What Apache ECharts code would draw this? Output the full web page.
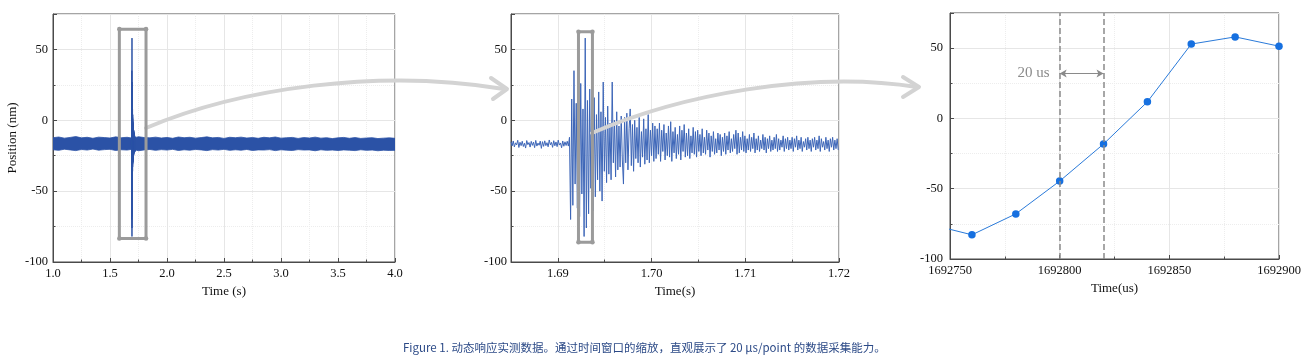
<!DOCTYPE html>
<html><head><meta charset="utf-8">
<script src="https://cdn.jsdelivr.net/npm/echarts@6/dist/echarts.min.js"></script>
<style>html,body{margin:0;padding:0;background:#fff}#c{width:1301px;height:361px}</style>
</head><body><div id="c"></div><script>
// ---------------- data ----------------
const overviewStart = 1.0, overviewStep = 0.05;   // envelope of the noise band (s)
const bandUpper = [
-12.3,-11.8,-12.6,-12.1,-11.5,-12.4,-12.0,-12.7,-11.9,-12.2,
-12.5,-11.7,-12.3,-12.0,-12.6,-11.6,-12.2,-12.4,-11.9,-12.5,
-12.1,-12.7,-11.8,-12.3,-12.0,-12.6,-12.2,-11.7,-12.4,-12.1,
-12.8,-12.0,-12.3,-11.9,-12.5,-12.2,-12.7,-12.0,-12.4,-11.8,
-12.6,-12.3,-12.1,-12.8,-12.2,-12.5,-11.9,-12.6,-12.3,-12.9,
-12.4,-12.1,-12.7,-12.2,-12.8,-12.5,-12.3,-12.9,-12.6,-12.4,
-12.7];
const bandLower = [
-20.8,-21.2,-20.4,-20.9,-21.4,-20.6,-21.0,-20.3,-21.1,-20.7,
-20.5,-21.3,-20.8,-21.0,-20.4,-21.5,-20.9,-20.6,-21.2,-20.7,
-21.0,-20.5,-21.3,-20.8,-21.1,-20.6,-20.9,-21.4,-20.7,-21.0,
-20.5,-21.2,-20.8,-21.1,-20.6,-21.3,-20.9,-21.0,-20.7,-21.4,
-20.8,-21.1,-21.3,-20.7,-21.0,-20.9,-21.5,-20.8,-21.2,-21.0,
-21.3,-20.9,-21.1,-21.4,-20.8,-21.2,-21.0,-21.5,-21.1,-21.3,
-21.2];
const burstStart = 1.685, burstStep = 0.00012;     // zoomed window (s)
const burstValues = [
-15.2,-18.1,-14.6,-18.8,-15.9,-17.4,-14.1,-19.2,-15.5,-17.9,
-14.8,-18.5,-16.2,-19.6,-14.3,-17.2,-15.7,-18.9,-14.9,-17.7,
-15.4,-19.3,-14.2,-18.2,-16.1,-17.6,-14.7,-19.8,-15.1,-18.4,
-14.5,-17.9,-15.8,-18.7,-13.9,-17.3,-15.6,-19.1,-14.4,-18.0,
-15.3,-18.6,-14.0,-17.5,-16.0,-19.4,-14.6,-18.3,-15.2,-17.8,
-14.8,-18.2,
-12,-70,15,-60,35,-45,12,-62,20,-68,
26,-52,8,-82,58,-76,14,-66,22,-48,
25,-64,16,-54,4,-42,20,-50,6,-57,
27,-36,2,-44,10,-38,-2,-42,27,-30,
0,-40,6,-35,-4,-33,3,-28,-45,2,
-30,5,-35,-6,8,-32,-3,-36,0,-27,
-5,-30,2,-33,-8,-26,1,-31,-6,-28,
4,-30,-7,-25,-2,-29,
-4,-27,-6,-24,-2,-29,-7,-22,-3,-28,-9,-25,-4,-26,-1,-29,-8,-23,-5,-27,
-10,-24,-4,-28,-7,-22,-3,-26,-9,-25,-6,-27,-11,-23,-5,-24,-8,-26,-7,-22,
-10,-25,-6,-23,-12,-24,-7,-21,-9,-26,-11,-22,-8,-24,-13,-23,-9,-21,-10,-25,
-12,-22,-9,-24,-11,-21,-8,-23,-13,-22,-10,-20,-7,-24,-9,-23,-12,-21,-8,-22,
-11,-23,-13,-21,-10,-22,-12,-20,-9,-23,-13,-21,-11,-22,-14,-20,-10,-21,-12,-23,
-13,-20,-11,-22,-14,-21,-12,-20,-10,-22,-13,-21,-14,-19,-11,-22,-13,-20,-12,-21,
-14,-20,-12,-22,-13,-19,-11,-21,-14,-20,-12,-22,-15,-19,-13,-21,-12,-20,-14,-22,
-13,-19,-12,-21,-14,-20,-11,-22,-13,-19,-15,-21,-12,-20,-14,-22,-13,-19,-12,-21,-14,-20,-13,-21];
const zoomTimes  = [1692740,1692760,1692780,1692800,1692820,1692840,1692860,1692880,1692900]; // us
const zoomValues = [-75,-82.8,-67.9,-44.6,-18.2,11.8,52.9,58.0,51.4];
const guideTimes = [1692800,1692820];
const spanLevel = 32, spanLabel = '20 us';
const overviewBox = {x:[1.582,1.816], y:[-83.4,64.3]};
const windowBox   = {x:[1.6922,1.69369], y:[-86,62.4]};
const yTitle = 'Position (nm)';
const xTitles = ['Time (s)','Time(s)','Time(us)'];
const caption = 'Figure 1. 动态响应实测数据。通过时间窗口的缩放，直观展示了 20 μs/point 的数据采集能力。';

// ---------------- build ----------------
const FONT = 'Liberation Serif';
const AX = '#4a4a4a';
const BAND = '#2b52a6', MID = '#3d66b8', RLINE = '#2a7ad9', RMARK = '#1670e0';

const bandPts  = bandUpper.map((u,i)=>[overviewStart+i*overviewStep, bandLower[i], u]);
const burstPts = burstValues.map((v,i)=>[burstStart+i*burstStep, v]);
const zoomPts  = zoomTimes.map((t,i)=>[t, zoomValues[i]]);

function yAxisCfg(gi, margin, extra){
  return Object.assign({
    type:'value', gridIndex:gi, min:-100, max:75, interval:50,
    axisLine:{show:true, onZero:false, lineStyle:{color:AX}},
    axisTick:{show:true, inside:true, length:4, lineStyle:{color:AX}},
    minorTick:{show:true, splitNumber:2, length:2.5, lineStyle:{color:AX}},
    axisLabel:{showMaxLabel:false, color:'#111', fontFamily:FONT, fontSize:12.5, margin:margin},
    splitLine:{show:true, lineStyle:{color:'#e6e6e6', width:1}},
    minorSplitLine:{show:true, lineStyle:{color:'#ededed', type:'dotted'}}
  }, extra||{});
}
function xAxisCfg(gi, extra, labelExtra, gap){
  return Object.assign({
    type:'value', gridIndex:gi,
    axisLine:{show:true, onZero:false, lineStyle:{color:AX}},
    axisTick:{show:true, inside:true, length:4, lineStyle:{color:AX}},
    minorTick:{show:true, splitNumber:2, length:2.5, lineStyle:{color:AX}},
    axisLabel:Object.assign({color:'#111', fontFamily:FONT, fontSize:12.5, margin:5}, labelExtra||{}),
    splitLine:{show:true, lineStyle:{color:'#e6e6e6', width:1}},
    minorSplitLine:{show:true, lineStyle:{color:'#ededed', type:'dotted'}},
    nameLocation:'middle', nameGap:gap,
    nameTextStyle:{color:'#111', fontFamily:FONT, fontSize:13}
  }, extra);
}

const gridBase = {show:true, borderColor:AX, borderWidth:1, backgroundColor:'transparent', containLabel:false, outerBoundsMode:'none'};

const option = {
  animation:false,
  backgroundColor:'#fff',
  title:{text:caption, left:398, top:337,
    textStyle:{fontSize:11.5, fontWeight:'normal', color:'#2c4a87', fontFamily:'Noto Sans CJK SC'}},
  grid:[
    Object.assign({left:53, width:342, top:14, height:248}, gridBase),
    Object.assign({left:511, width:328, top:14, height:248}, gridBase),
    Object.assign({left:950, width:329, top:13, height:246}, gridBase)
  ],
  xAxis:[
    xAxisCfg(0, {min:1.0, max:4.0, interval:0.5, name:xTitles[0]}, {formatter:v=>v.toFixed(1)}, 20),
    xAxisCfg(1, {min:1.685, max:1.72, splitNumber:4, name:xTitles[1]}, {formatter:v=>v.toFixed(2), showMinLabel:false}, 19),
    xAxisCfg(2, {min:1692750, max:1692900, interval:50, name:xTitles[2]}, {formatter:v=>String(Math.round(v))}, 22)
  ],
  yAxis:[
    yAxisCfg(0, 5, {name:yTitle, nameLocation:'middle', nameGap:34,
      nameTextStyle:{color:'#111', fontFamily:FONT, fontSize:13}}),
    yAxisCfg(1, 4),
    yAxisCfg(2, 7)
  ],
  series:[
    {type:'custom', xAxisIndex:0, yAxisIndex:0, data:bandPts, silent:true, clip:true,
      encode:{x:0, y:[1,2]},
      renderItem:function(params, api){
        if (params.dataIndex !== 0) return null;
        const pts = [];
        for (let i=0;i<bandPts.length;i++) pts.push(api.coord([bandPts[i][0], bandPts[i][2]]));
        for (let i=bandPts.length-1;i>=0;i--) pts.push(api.coord([bandPts[i][0], bandPts[i][1]]));
        return {type:'polygon', shape:{points:pts}, style:{fill:BAND, stroke:BAND, lineWidth:0.8}};
      }},
    {type:'line', xAxisIndex:0, yAxisIndex:0, data:burstPts, symbol:'none', silent:true,
      lineStyle:{color:BAND, width:1}},
    {type:'line', xAxisIndex:1, yAxisIndex:1, data:burstPts, symbol:'none', silent:true,
      lineStyle:{color:MID, width:1}},
    {type:'line', xAxisIndex:2, yAxisIndex:2, data:zoomPts, symbol:'circle', symbolSize:7.5,
      showAllSymbol:true, silent:true,
      lineStyle:{color:RLINE, width:1}, itemStyle:{color:RMARK},
      markLine:{silent:true, symbol:['none','none'], animation:false,
        label:{show:false},
        lineStyle:{color:'#8a8a8a', type:'dashed', width:1.5},
        data:[
          {xAxis:guideTimes[0]},
          {xAxis:guideTimes[1]},
          [{coord:[guideTimes[0], spanLevel], symbol:'arrow', symbolSize:[6,7],
             lineStyle:{color:'#8a8a8a', type:'solid', width:1.2},
             label:{show:true, position:'start', formatter:spanLabel, color:'#8a8a8a',
                    fontFamily:FONT, fontSize:15, distance:10}},
           {coord:[guideTimes[1], spanLevel], symbol:'arrow', symbolSize:[6,7]}]
        ]}}
  ]
};

const chart = echarts.init(document.getElementById('c'), null, {renderer:'canvas'});
chart.setOption(option);

function boxGraphics(idx, b){
  const p1 = chart.convertToPixel({xAxisIndex:idx, yAxisIndex:idx}, [b.x[0], b.y[1]]);
  const p2 = chart.convertToPixel({xAxisIndex:idx, yAxisIndex:idx}, [b.x[1], b.y[0]]);
  const c = '#9b9b9b';
  const els = [{type:'rect', z:100, silent:true,
    shape:{x:p1[0], y:p1[1], width:p2[0]-p1[0], height:p2[1]-p1[1], r:2},
    style:{fill:null, stroke:c, lineWidth:3}}];
  [[p1[0],p1[1]],[p2[0],p1[1]],[p1[0],p2[1]],[p2[0],p2[1]]].forEach(p=>{
    els.push({type:'circle', z:101, silent:true, shape:{cx:p[0], cy:p[1], r:2.3}, style:{fill:c}});
  });
  return els;
}
const AR = '#d3d3d3';
const arrowStyle = {stroke:AR, lineWidth:4, fill:null, lineCap:'round', lineJoin:'round'};
const graphics = []
  .concat(boxGraphics(0, overviewBox))
  .concat(boxGraphics(1, windowBox))
  .concat([
    {type:'bezierCurve', z:99, silent:true, shape:{x1:146,y1:128,cpx1:240,cpy1:88,cpx2:380,cpy2:68,x2:504,y2:89}, style:arrowStyle},
    {type:'polyline', z:99, silent:true, shape:{points:[[491,78],[507,89],[493,99]]}, style:arrowStyle},
    {type:'bezierCurve', z:99, silent:true, shape:{x1:592,y1:133,cpx1:680,cpy1:95,cpx2:810,cpy2:70,x2:917,y2:87}, style:arrowStyle},
    {type:'polyline', z:99, silent:true, shape:{points:[[903,77],[919,87],[903,97]]}, style:arrowStyle}
  ]);
chart.setOption({graphic:{elements:graphics}});
</script></body></html>
